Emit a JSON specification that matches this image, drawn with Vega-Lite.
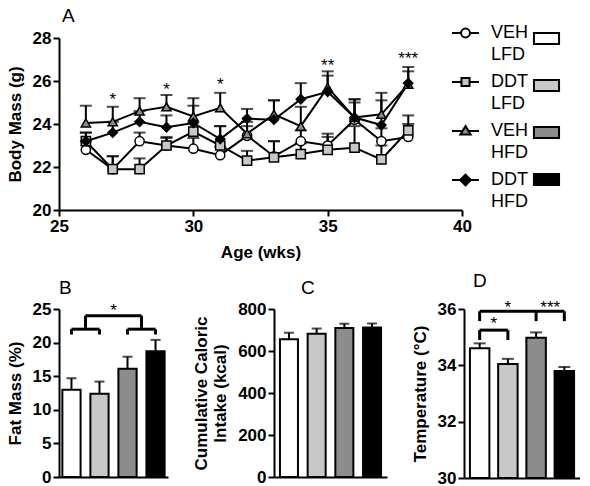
{
  "$schema": "https://vega.github.io/schema/vega-lite/v6.json",
  "padding": {"left": 6, "top": 6, "right": 0, "bottom": 0},
  "datasets": {
    "mass": [
      {"group": "VEH LFD", "week": 26, "mass": 22.8, "upper": 23.2},
      {"group": "VEH LFD", "week": 27, "mass": 21.9, "upper": 22.5},
      {"group": "VEH LFD", "week": 28, "mass": 23.2, "upper": 23.6},
      {"group": "VEH LFD", "week": 29, "mass": 23.0, "upper": 23.4},
      {"group": "VEH LFD", "week": 30, "mass": 22.85, "upper": 23.35},
      {"group": "VEH LFD", "week": 31, "mass": 22.55, "upper": 22.95},
      {"group": "VEH LFD", "week": 32, "mass": 23.45, "upper": 23.9},
      {"group": "VEH LFD", "week": 33, "mass": 22.5, "upper": 23.2},
      {"group": "VEH LFD", "week": 34, "mass": 23.2, "upper": 23.7},
      {"group": "VEH LFD", "week": 35, "mass": 23.0, "upper": 23.55},
      {"group": "VEH LFD", "week": 36, "mass": 24.2, "upper": 25.0},
      {"group": "VEH LFD", "week": 37, "mass": 23.2, "upper": 23.8},
      {"group": "VEH LFD", "week": 38, "mass": 23.4, "upper": 24.0},
      {"group": "DDT LFD", "week": 26, "mass": 23.2, "upper": 23.6},
      {"group": "DDT LFD", "week": 27, "mass": 21.9, "upper": 22.5},
      {"group": "DDT LFD", "week": 28, "mass": 21.9, "upper": 22.4},
      {"group": "DDT LFD", "week": 29, "mass": 23.0, "upper": 23.35},
      {"group": "DDT LFD", "week": 30, "mass": 23.65, "upper": 24.1},
      {"group": "DDT LFD", "week": 31, "mass": 23.0, "upper": 23.9},
      {"group": "DDT LFD", "week": 32, "mass": 22.3, "upper": 22.75},
      {"group": "DDT LFD", "week": 33, "mass": 22.45, "upper": 23.2},
      {"group": "DDT LFD", "week": 34, "mass": 22.6, "upper": 23.1},
      {"group": "DDT LFD", "week": 35, "mass": 22.8, "upper": 23.4},
      {"group": "DDT LFD", "week": 36, "mass": 22.9, "upper": 23.9},
      {"group": "DDT LFD", "week": 37, "mass": 22.35, "upper": 23.0},
      {"group": "DDT LFD", "week": 38, "mass": 23.7, "upper": 24.4},
      {"group": "VEH HFD", "week": 26, "mass": 24.05, "upper": 24.85},
      {"group": "VEH HFD", "week": 27, "mass": 24.1, "upper": 24.8},
      {"group": "VEH HFD", "week": 28, "mass": 24.6, "upper": 25.2},
      {"group": "VEH HFD", "week": 29, "mass": 24.8, "upper": 25.35},
      {"group": "VEH HFD", "week": 30, "mass": 24.35, "upper": 25.2},
      {"group": "VEH HFD", "week": 31, "mass": 24.75, "upper": 25.45},
      {"group": "VEH HFD", "week": 32, "mass": 23.55, "upper": 24.1},
      {"group": "VEH HFD", "week": 33, "mass": 24.45, "upper": 25.1},
      {"group": "VEH HFD", "week": 34, "mass": 23.9, "upper": 24.8},
      {"group": "VEH HFD", "week": 35, "mass": 25.7, "upper": 26.45},
      {"group": "VEH HFD", "week": 36, "mass": 24.3, "upper": 25.15},
      {"group": "VEH HFD", "week": 37, "mass": 24.45, "upper": 25.45},
      {"group": "VEH HFD", "week": 38, "mass": 25.85, "upper": 26.65},
      {"group": "DDT HFD", "week": 26, "mass": 23.2, "upper": 23.6},
      {"group": "DDT HFD", "week": 27, "mass": 23.6, "upper": 24.1},
      {"group": "DDT HFD", "week": 28, "mass": 24.1, "upper": 24.6},
      {"group": "DDT HFD", "week": 29, "mass": 23.85, "upper": 24.4},
      {"group": "DDT HFD", "week": 30, "mass": 24.05, "upper": 24.85},
      {"group": "DDT HFD", "week": 31, "mass": 23.3, "upper": 23.9},
      {"group": "DDT HFD", "week": 32, "mass": 24.25, "upper": 24.7},
      {"group": "DDT HFD", "week": 33, "mass": 24.2, "upper": 25.1},
      {"group": "DDT HFD", "week": 34, "mass": 25.15, "upper": 25.9},
      {"group": "DDT HFD", "week": 35, "mass": 25.5, "upper": 26.25},
      {"group": "DDT HFD", "week": 36, "mass": 24.3, "upper": 25.15},
      {"group": "DDT HFD", "week": 37, "mass": 23.95, "upper": 25.1},
      {"group": "DDT HFD", "week": 38, "mass": 25.9, "upper": 26.45}
    ],
    "starsA": [
      {"week": 27, "y": 25.3, "label": "*"},
      {"week": 29, "y": 25.75, "label": "*"},
      {"week": 31, "y": 26.0, "label": "*"},
      {"week": 35, "y": 26.9, "label": "**"},
      {"week": 38, "y": 27.2, "label": "***"}
    ],
    "bars": [
      {"group": "VEH LFD", "fat": 13.0, "fatTop": 14.7, "intake": 656, "intakeTop": 687, "temp": 34.61, "tempTop": 34.78},
      {"group": "DDT LFD", "fat": 12.4, "fatTop": 14.2, "intake": 682, "intakeTop": 707, "temp": 34.05, "tempTop": 34.23},
      {"group": "VEH HFD", "fat": 16.1, "fatTop": 17.9, "intake": 710, "intakeTop": 730, "temp": 34.98, "tempTop": 35.17},
      {"group": "DDT HFD", "fat": 18.7, "fatTop": 20.4, "intake": 712, "intakeTop": 731, "temp": 33.8, "tempTop": 33.94}
    ]
  },
  "vconcat": [
    {
      "width": 403,
      "height": 172,
      "title": {"text": "A", "offset": -7, "dx": 3, "frame": "group"},
      "data": {"name": "mass"},
      "layer": [
        {
          "mark": {"type": "line", "stroke": "black", "strokeWidth": 2},
          "encoding": {
            "x": {"field": "week", "type": "quantitative", "scale": {"domain": [25, 40], "nice": false}, "axis": {"values": [25, 30, 35, 40], "title": "Age (wks)", "titlePadding": 10}},
            "y": {"field": "mass", "type": "quantitative", "scale": {"domain": [20, 28], "nice": false}, "axis": {"values": [20, 22, 24, 26, 28], "title": "Body Mass (g)", "titlePadding": 8}},
            "detail": {"field": "group"}
          }
        },
        {
          "mark": {"type": "rule", "stroke": "black", "strokeWidth": 2},
          "encoding": {
            "x": {"field": "week", "type": "quantitative"},
            "y": {"field": "mass", "type": "quantitative"},
            "y2": {"field": "upper"}
          }
        },
        {
          "mark": {"type": "tick", "orient": "horizontal", "color": "black", "size": 12, "thickness": 2},
          "encoding": {
            "x": {"field": "week", "type": "quantitative"},
            "y": {"field": "upper", "type": "quantitative"}
          }
        },
        {
          "mark": {"type": "point", "filled": true, "stroke": "black", "strokeWidth": 1.5, "size": 85, "opacity": 1},
          "encoding": {
            "x": {"field": "week", "type": "quantitative"},
            "y": {"field": "mass", "type": "quantitative"},
            "shape": {
              "field": "group", "type": "nominal",
              "scale": {"domain": ["VEH LFD", "DDT LFD", "VEH HFD", "DDT HFD"], "range": ["circle", "square", "triangle-up", "diamond"]},
              "legend": null
            },
            "fill": {
              "field": "group", "type": "nominal",
              "scale": {"domain": ["VEH LFD", "DDT LFD", "VEH HFD", "DDT HFD"], "range": ["white", "#c8c8c8", "#8c8c8c", "black"]},
              "legend": null
            }
          }
        },
        {
          "mark": {"type": "point", "filled": true, "opacity": 0},
          "encoding": {
            "x": {"field": "week", "type": "quantitative"},
            "y": {"field": "mass", "type": "quantitative"},
            "shape": {
              "field": "group", "type": "nominal",
              "scale": {"domain": ["VEH LFD", "DDT LFD", "VEH HFD", "DDT HFD"], "range": [
                "M-1,0H-0.33M0.33,0H1M-0.33,0A0.33,0.33,0,1,1,0.33,0A0.33,0.33,0,1,1,-0.33,0Z",
                "M-1,0H-0.3M0.3,0H1M-0.3,-0.3H0.3V0.3H-0.3Z",
                "M-1,0H-0.22M0.22,0H1M0,-0.36L0.38,0.26H-0.38Z",
                "M-1,0H-0.4M0.4,0H1M0,-0.4L0.4,0L0,0.4L-0.4,0Z"
              ]},
              "legend": {
                "orient": "none", "legendX": 392, "legendY": -19.5, "title": null, "padding": 0,
                "symbolSize": 729, "symbolStrokeColor": "black", "symbolStrokeWidth": 2, "symbolOpacity": 1,
                "labelFont": "Liberation Sans", "labelFontSize": 18, "labelColor": "black",
                "labelExpr": "split(datum.label, ' ')", "labelOffset": 11, "rowPadding": 3, "labelLimit": 200,
                "encode": {"labels": {"update": {"lineHeight": {"value": 22}}}}
              }
            },
            "fill": {
              "field": "group", "type": "nominal",
              "scale": {"domain": ["VEH LFD", "DDT LFD", "VEH HFD", "DDT HFD"], "range": ["white", "#c8c8c8", "#8c8c8c", "black"]},
              "legend": {
                "orient": "none", "legendX": 392, "legendY": -19.5, "title": null, "padding": 0,
                "symbolSize": 729, "symbolStrokeColor": "black", "symbolStrokeWidth": 2, "symbolOpacity": 1,
                "labelFont": "Liberation Sans", "labelFontSize": 18, "labelColor": "black",
                "labelExpr": "split(datum.label, ' ')", "labelOffset": 11, "rowPadding": 3, "labelLimit": 200,
                "encode": {"labels": {"update": {"lineHeight": {"value": 22}}}}
              }
            }
          }
        },
        {
          "mark": {"type": "point", "shape": "square", "filled": true, "opacity": 0},
          "encoding": {
            "x": {"field": "week", "type": "quantitative"},
            "y": {"field": "mass", "type": "quantitative"},
            "fill": {
              "field": "group", "type": "nominal",
              "scale": {"domain": ["VEH LFD", "DDT LFD", "VEH HFD", "DDT HFD"], "range": ["white", "#c8c8c8", "#8c8c8c", "black"]},
              "legend": {
                "orient": "none", "legendX": 473, "legendY": -14, "title": null, "padding": 0,
                "symbolType": "M-0.93,-0.4H0.93V0.4H-0.93Z", "symbolSize": 729, "symbolStrokeColor": "black", "symbolStrokeWidth": 2, "symbolOpacity": 1,
                "labelFontSize": 18, "labelExpr": "''", "labelOffset": 0, "rowPadding": 23
              }
            }
          }
        },
        {
          "data": {"name": "starsA"},
          "mark": {"type": "text", "fontSize": 17, "color": "black", "baseline": "alphabetic", "dy": 9},
          "encoding": {
            "x": {"field": "week", "type": "quantitative"},
            "y": {"field": "y", "type": "quantitative"},
            "text": {"field": "label"}
          }
        }
      ],
      "resolve": {"scale": {"fill": "independent", "shape": "independent"}, "legend": {"fill": "independent", "shape": "independent"}}
    },
    {
      "hconcat": [
        {
          "width": 109,
          "height": 168,
          "title": {"text": "B", "offset": 2, "dx": 0, "frame": "group"},
          "layer": [
            {
              "data": {"name": "bars"},
              "layer": [
                {
                  "mark": {"type": "rule", "stroke": "black", "strokeWidth": 2},
                  "encoding": {
                    "x": {"field": "group", "type": "nominal", "sort": null, "scale": {"type": "band", "domain": ["VEH LFD", "DDT LFD", "VEH HFD", "DDT HFD"], "paddingInner": 0.35, "paddingOuter": 0.12}, "axis": {"title": null, "labels": false, "ticks": false}},
                    "y": {"field": "fat", "type": "quantitative", "scale": {"domain": [0, 25], "nice": false}, "axis": {"values": [0, 5, 10, 15, 20, 25], "title": "Fat Mass (%)", "titlePadding": 8}},
                    "y2": {"field": "fatTop"}
                  }
                },
                {
                  "mark": {"type": "tick", "orient": "horizontal", "color": "black", "size": 10, "thickness": 2},
                  "encoding": {
                    "x": {"field": "group", "type": "nominal"},
                    "y": {"field": "fatTop", "type": "quantitative", "axis": {"values": [0, 5, 10, 15, 20, 25], "title": "Fat Mass (%)", "titlePadding": 8}}
                  }
                },
                {
                  "mark": {"type": "bar", "stroke": "black", "strokeWidth": 2},
                  "encoding": {
                    "x": {"field": "group", "type": "nominal"},
                    "y": {"field": "fat", "type": "quantitative", "axis": {"values": [0, 5, 10, 15, 20, 25], "title": "Fat Mass (%)", "titlePadding": 8}},
                    "fill": {"field": "group", "type": "nominal", "scale": {"domain": ["VEH LFD", "DDT LFD", "VEH HFD", "DDT HFD"], "range": ["white", "#c8c8c8", "#8c8c8c", "black"]}, "legend": null}
                  }
                }
              ]
            },
            {
              "data": {"values": [{"from": "VEH LFD", "to": "DDT LFD", "y": 22}, {"from": "VEH HFD", "to": "DDT HFD", "y": 22}]},
              "mark": {"type": "rule", "stroke": "black", "strokeWidth": 3},
              "encoding": {
                "x": {"field": "from", "type": "nominal", "bandPosition": 0.5},
                "x2": {"field": "to", "bandPosition": 0.5},
                "y": {"field": "y", "type": "quantitative", "axis": {"values": [0, 5, 10, 15, 20, 25], "title": "Fat Mass (%)", "titlePadding": 8}}
              }
            },
            {
              "data": {"values": [{"g": "VEH LFD", "y": 22, "y2": 21.2}, {"g": "DDT LFD", "y": 22, "y2": 21.2}, {"g": "VEH HFD", "y": 22, "y2": 21.2}, {"g": "DDT HFD", "y": 22, "y2": 21.2}]},
              "mark": {"type": "rule", "stroke": "black", "strokeWidth": 3},
              "encoding": {
                "x": {"field": "g", "type": "nominal", "bandPosition": 0.5},
                "y": {"field": "y", "type": "quantitative", "axis": {"values": [0, 5, 10, 15, 20, 25], "title": "Fat Mass (%)", "titlePadding": 8}},
                "y2": {"field": "y2"}
              }
            },
            {
              "data": {"values": [{"from": "VEH LFD", "to": "VEH HFD", "y": 24}]},
              "mark": {"type": "rule", "stroke": "black", "strokeWidth": 3},
              "encoding": {
                "x": {"field": "from", "type": "nominal", "bandPosition": 1.269},
                "x2": {"field": "to", "bandPosition": 1.269},
                "y": {"field": "y", "type": "quantitative", "axis": {"values": [0, 5, 10, 15, 20, 25], "title": "Fat Mass (%)", "titlePadding": 8}}
              }
            },
            {
              "data": {"values": [{"g": "VEH LFD", "y": 24, "y2": 22}, {"g": "VEH HFD", "y": 24, "y2": 22}]},
              "mark": {"type": "rule", "stroke": "black", "strokeWidth": 3},
              "encoding": {
                "x": {"field": "g", "type": "nominal", "bandPosition": 1.269},
                "y": {"field": "y", "type": "quantitative", "axis": {"values": [0, 5, 10, 15, 20, 25], "title": "Fat Mass (%)", "titlePadding": 8}},
                "y2": {"field": "y2"}
              }
            },
            {
              "data": {"values": [{"g": "DDT LFD", "y": 25.25, "label": "*"}]},
              "mark": {"type": "text", "fontSize": 17, "color": "black", "baseline": "alphabetic", "dy": 9},
              "encoding": {
                "x": {"field": "g", "type": "nominal", "bandPosition": 1.269},
                "y": {"field": "y", "type": "quantitative", "axis": {"values": [0, 5, 10, 15, 20, 25], "title": "Fat Mass (%)", "titlePadding": 8}},
                "text": {"field": "label"}
              }
            }
          ]
        },
        {
          "width": 113,
          "height": 168,
          "title": {"text": "C", "offset": 2, "dx": 27, "frame": "group"},
          "data": {"name": "bars"},
          "layer": [
            {
              "mark": {"type": "rule", "stroke": "black", "strokeWidth": 2},
              "encoding": {
                "x": {"field": "group", "type": "nominal", "sort": null, "scale": {"type": "band", "domain": ["VEH LFD", "DDT LFD", "VEH HFD", "DDT HFD"], "paddingInner": 0.35, "paddingOuter": 0.215}, "axis": {"title": null, "labels": false, "ticks": false}},
                "y": {"field": "intake", "type": "quantitative", "scale": {"domain": [0, 800], "nice": false}, "axis": {"values": [0, 200, 400, 600, 800], "title": ["Cumulative Caloric", "Intake (kcal)"], "titlePadding": 8}},
                "y2": {"field": "intakeTop"}
              }
            },
            {
              "mark": {"type": "tick", "orient": "horizontal", "color": "black", "size": 10, "thickness": 2},
              "encoding": {
                "x": {"field": "group", "type": "nominal"},
                "y": {"field": "intakeTop", "type": "quantitative", "axis": {"values": [0, 200, 400, 600, 800], "title": ["Cumulative Caloric", "Intake (kcal)"], "titlePadding": 8}}
              }
            },
            {
              "mark": {"type": "bar", "stroke": "black", "strokeWidth": 2},
              "encoding": {
                "x": {"field": "group", "type": "nominal"},
                "y": {"field": "intake", "type": "quantitative", "axis": {"values": [0, 200, 400, 600, 800], "title": ["Cumulative Caloric", "Intake (kcal)"], "titlePadding": 8}},
                "fill": {"field": "group", "type": "nominal", "scale": {"domain": ["VEH LFD", "DDT LFD", "VEH HFD", "DDT HFD"], "range": ["white", "#c8c8c8", "#8c8c8c", "black"]}, "legend": null}
              }
            }
          ]
        },
        {
          "width": 116,
          "height": 169,
          "title": {"text": "D", "offset": 8.5, "dx": 9, "frame": "group"},
          "layer": [
            {
              "data": {"name": "bars"},
              "layer": [
                {
                  "mark": {"type": "rule", "stroke": "black", "strokeWidth": 2},
                  "encoding": {
                    "x": {"field": "group", "type": "nominal", "sort": null, "scale": {"type": "band", "domain": ["VEH LFD", "DDT LFD", "VEH HFD", "DDT HFD"], "paddingInner": 0.31, "paddingOuter": 0.21}, "axis": {"title": null, "labels": false, "ticks": false}},
                    "y": {"field": "temp", "type": "quantitative", "scale": {"domain": [30, 36], "zero": false, "nice": false}, "axis": {"values": [30, 32, 34, 36], "title": "Temperature (°C)", "titlePadding": 8}},
                    "y2": {"field": "tempTop"}
                  }
                },
                {
                  "mark": {"type": "tick", "orient": "horizontal", "color": "black", "size": 12, "thickness": 2},
                  "encoding": {
                    "x": {"field": "group", "type": "nominal"},
                    "y": {"field": "tempTop", "type": "quantitative", "axis": {"values": [30, 32, 34, 36], "title": "Temperature (°C)", "titlePadding": 8}}
                  }
                },
                {
                  "mark": {"type": "bar", "stroke": "black", "strokeWidth": 2},
                  "encoding": {
                    "x": {"field": "group", "type": "nominal"},
                    "y": {"field": "temp", "type": "quantitative", "axis": {"values": [30, 32, 34, 36], "title": "Temperature (°C)", "titlePadding": 8}},
                    "y2": {"datum": 30},
                    "fill": {"field": "group", "type": "nominal", "scale": {"domain": ["VEH LFD", "DDT LFD", "VEH HFD", "DDT HFD"], "range": ["white", "#c8c8c8", "#8c8c8c", "black"]}, "legend": null}
                  }
                }
              ]
            },
            {
              "data": {"values": [{"from": "VEH LFD", "to": "VEH HFD", "y": 35.92}, {"from": "VEH HFD", "to": "DDT HFD", "y": 35.92}, {"from": "VEH LFD", "to": "DDT LFD", "y": 35.25}]},
              "mark": {"type": "rule", "stroke": "black", "strokeWidth": 3},
              "encoding": {
                "x": {"field": "from", "type": "nominal", "bandPosition": 0.5},
                "x2": {"field": "to", "bandPosition": 0.5},
                "y": {"field": "y", "type": "quantitative", "axis": {"values": [30, 32, 34, 36], "title": "Temperature (°C)", "titlePadding": 8}}
              }
            },
            {
              "data": {"values": [{"g": "VEH LFD", "y": 35.92, "y2": 35.57}, {"g": "VEH HFD", "y": 35.92, "y2": 35.57}, {"g": "DDT HFD", "y": 35.92, "y2": 35.57}, {"g": "VEH LFD", "y": 35.25, "y2": 34.9}, {"g": "DDT LFD", "y": 35.25, "y2": 34.9}]},
              "mark": {"type": "rule", "stroke": "black", "strokeWidth": 3},
              "encoding": {
                "x": {"field": "g", "type": "nominal", "bandPosition": 0.5},
                "y": {"field": "y", "type": "quantitative", "axis": {"values": [30, 32, 34, 36], "title": "Temperature (°C)", "titlePadding": 8}},
                "y2": {"field": "y2"}
              }
            },
            {
              "data": {"values": [{"g": "DDT LFD", "y": 36.17, "label": "*"}]},
              "mark": {"type": "text", "fontSize": 17, "color": "black", "baseline": "alphabetic", "dy": 9},
              "encoding": {
                "x": {"field": "g", "type": "nominal", "bandPosition": 0.5},
                "y": {"field": "y", "type": "quantitative", "axis": {"values": [30, 32, 34, 36], "title": "Temperature (°C)", "titlePadding": 8}},
                "text": {"field": "label"}
              }
            },
            {
              "data": {"values": [{"g": "VEH LFD", "y": 35.6, "label": "*"}, {"g": "VEH HFD", "y": 36.17, "label": "***"}]},
              "mark": {"type": "text", "fontSize": 17, "color": "black", "baseline": "alphabetic", "dy": 9},
              "encoding": {
                "x": {"field": "g", "type": "nominal", "bandPosition": 1.225},
                "y": {"field": "y", "type": "quantitative", "axis": {"values": [30, 32, 34, 36], "title": "Temperature (°C)", "titlePadding": 8}},
                "text": {"field": "label"}
              }
            }
          ]
        }
      ],
      "spacing": 24
    }
  ],
  "spacing": 11,
  "resolve": {"scale": {"fill": "independent", "shape": "independent"}, "legend": {"fill": "independent", "shape": "independent"}},
  "config": {
    "view": {"stroke": null},
    "font": "Liberation Sans",
    "axis": {
      "domainColor": "black", "domainWidth": 2, "tickColor": "black", "tickWidth": 2, "tickSize": 6, "labelFlush": false, "labelOverlap": false,
      "labelColor": "black", "labelFont": "Liberation Sans", "labelFontWeight": "bold", "labelFontSize": 17, "labelPadding": 2,
      "titleColor": "black", "titleFont": "Liberation Sans", "titleFontWeight": "bold", "titleFontSize": 17, "grid": false
    },
    "title": {"fontSize": 19, "fontWeight": "normal", "anchor": "start", "color": "black", "font": "Liberation Sans"}
  }
}
